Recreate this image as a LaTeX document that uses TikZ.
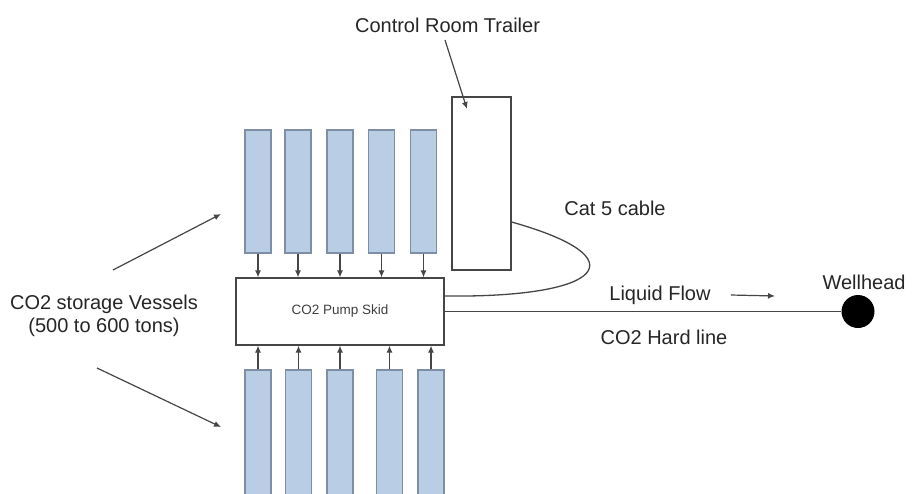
\documentclass[tikz,border=0pt]{standalone}
\usepackage{fontspec}
\setmainfont{Liberation Sans}
\usepackage{xcolor}
\usepackage{tikz}
\usetikzlibrary{arrows.meta,positioning,calc}

\definecolor{vesselfill}{HTML}{B9CDE5}
\definecolor{vesseldraw}{HTML}{7D8EA5}
\definecolor{linegray}{HTML}{464646}

\begin{document}
\begin{tikzpicture}[
    x=1pt, y=-1pt,
    vessel/.style={rectangle, draw=vesseldraw, fill=vesselfill, line width=1.2pt, minimum width=26pt, inner sep=0pt},
    box/.style={rectangle, draw=linegray, fill=white, line width=1.2pt, inner sep=0pt},
    label/.style={font=\fontsize{20}{23}\selectfont, text=black!85, inner sep=1pt},
    arrow/.style={-{Latex[length=7pt,width=6pt]}, draw=linegray, line width=1.2pt},
    pipe/.style={draw=linegray, line width=1.3pt}
]
    % Frame of the picture
    \clip (0,0) rectangle (913,493);
    \fill[white] (0,0) rectangle (913,493);

    % Pump skid and control trailer
    \node[box, minimum width=208pt, minimum height=67pt] (skid) at (340,311.5) {};
    \node[font=\fontsize{13.5}{15}\selectfont, text=black!75] (skidlabel) at (skid) {CO2 Pump Skid};
    \node[box, minimum width=59pt, minimum height=173pt] (trailer) at (481.5,183.5) {};

    % Storage vessels, upper row
    \foreach \i/\x in {1/258, 2/298, 3/340, 4/381.5, 5/423.5} {
        \node[vessel, minimum height=123pt] (top\i) at (\x,191.5) {};
        \draw[arrow] (top\i.south) -- (top\i.south |- skid.north);
    }

    % Storage vessels, lower row
    \foreach \i/\x in {1/258, 2/298.5, 3/340, 4/389.5, 5/431} {
        \node[vessel, minimum height=140pt] (bot\i) at (\x,440) {};
        \draw[arrow] (bot\i.north) -- (bot\i.north |- skid.south);
    }

    % Wellhead and hard line
    \node[circle, fill=black, minimum size=33pt, inner sep=0pt] (wellhead) at (858,311.5) {};
    \draw[pipe] (skid.east) -- (wellhead.west);
    \node[label] (welllabel) at (864,282) {Wellhead};
    \node[label] (flow) at (660,295) {Liquid Flow};
    \coordinate (flowend) at (775,296);
    \draw[arrow] ([xshift=19pt]flow.east) -- (flowend);
    \node[label] (hardline) at (664,337) {CO2 Hard line};

    % Cat 5 cable
    \coordinate (cabstart) at (trailer.east |- 0,222);
    \coordinate (cabend) at (skid.east |- 0,296);
    \draw[pipe] (cabstart) .. controls (640,258) and (605,298) .. (cabend);
    \node[label] (cablabel) at (615,208) {Cat 5 cable};

    % Control room label
    \node[label] (ctrl) at (447.5,25) {Control Room Trailer};
    \coordinate (ctrlpt) at (467,109);
    \draw[arrow] (445,40) -- (ctrlpt);

    % Storage label
    \node[label, align=center] (store) at (104,316) {CO2 storage Vessels\\(500 to 600 tons)};
    \coordinate (storeup) at (221,214);
    \coordinate (storedown) at (221,427);
    \draw[arrow] (113,270) -- (storeup);
    \draw[arrow] (97,368) -- (storedown);
\end{tikzpicture}
\end{document}
